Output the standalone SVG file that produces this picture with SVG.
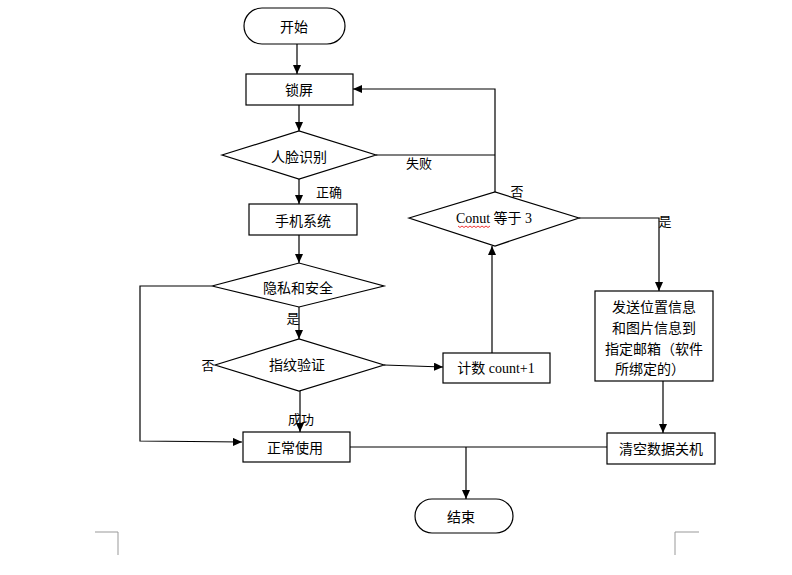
<svg xmlns="http://www.w3.org/2000/svg" width="792" height="575" viewBox="0 0 792 575">
<style>
.box{fill:#fff;stroke:#000;stroke-width:1.2}
.t{font-family:"Noto Sans CJK SC","Liberation Sans",sans-serif;font-size:14px;fill:#000;text-anchor:middle;dominant-baseline:central}
.s{font-family:"Liberation Serif","Noto Sans CJK SC",serif;font-size:14px;fill:#000;text-anchor:middle;dominant-baseline:central}
.l{font-family:"Noto Sans CJK SC","Liberation Sans",sans-serif;font-size:13px;fill:#000;text-anchor:middle;dominant-baseline:central}
.c{fill:none;stroke:#000;stroke-width:1.2}
.mark{fill:none;stroke:#999;stroke-width:1}
</style>
<defs>
<marker id="ah" markerUnits="userSpaceOnUse" markerWidth="9" markerHeight="8" refX="9" refY="4" orient="auto">
<path d="M0,0 L9,4 L0,8 z" fill="#000"/>
</marker>
</defs>
<rect width="792" height="575" fill="#fff"/>
<g id="connectors">
<path class="c" d="M297,44 V74" marker-end="url(#ah)"/>
<path class="c" d="M299,105 V131" marker-end="url(#ah)"/>
<path class="c" d="M376,155 H495"/>
<path class="c" d="M495,192 V89 H353" marker-end="url(#ah)"/>
<path class="c" d="M299,179 V204" marker-end="url(#ah)"/>
<path class="c" d="M299,235 V263" marker-end="url(#ah)"/>
<path class="c" d="M212,286 H140 V441 L242,442" marker-end="url(#ah)"/>
<path class="c" d="M299,307 V339" marker-end="url(#ah)"/>
<path class="c" d="M300,391 V432" marker-end="url(#ah)"/>
<path class="c" d="M384,365 L443,367" marker-end="url(#ah)"/>
<path class="c" d="M492,353 V246" marker-end="url(#ah)"/>
<path class="c" d="M579,218 H659 V291" marker-end="url(#ah)"/>
<path class="c" d="M663,381 V433" marker-end="url(#ah)"/>
<path class="c" d="M350,447 H607"/>
<path class="c" d="M466,447 V499" marker-end="url(#ah)"/>
<text class="l" x="419" y="162">失败</text>
<text class="l" x="329" y="191">正确</text>
<text class="l" x="293" y="317" font-size="11">是</text>
<text class="l" x="208" y="364" font-size="11">否</text>
<text class="l" x="301" y="418" font-size="11">成功</text>
<text class="l" x="517" y="190">否</text>
<text class="l" x="665" y="220">是</text>
</g>
<g id="start">
<rect class="box" x="244" y="8" width="101" height="36" rx="18"/>
<text class="t" x="294" y="26">开始</text>
</g>
<g id="lock">
<rect class="box" x="246" y="74" width="107" height="31"/>
<text class="t" x="299" y="89">锁屏</text>
</g>
<g id="face">
<polygon class="box" points="222,155 299,131 376,155 299,179"/>
<text class="t" x="299" y="156">人脸识别</text>
</g>
<g id="system">
<rect class="box" x="249" y="204" width="108" height="31"/>
<text class="t" x="303" y="220">手机系统</text>
</g>
<g id="privacy">
<polygon class="box" points="212,286 299,263 384,286 299,307"/>
<text class="t" x="298" y="287">隐私和安全</text>
</g>
<g id="finger">
<polygon class="box" points="215,365 299,339 384,365 299,391"/>
<text class="t" x="297" y="364">指纹验证</text>
</g>
<g id="count">
<rect class="box" x="443" y="353" width="107" height="30"/>
<text class="s" x="496" y="368">计数 count+1</text>
</g>
<g id="conut">
<polygon class="box" points="409,218 495,192 579,218 495,246"/>
<text class="s" x="494" y="218">Conut 等于 3</text>
<path d="M458,226 l2,1.5 l2,-1.5 l2,1.5 l2,-1.5 l2,1.5 l2,-1.5 l2,1.5 l2,-1.5 l2,1.5 l2,-1.5 l2,1.5 l2,-1.5 l2,1.5 l2,-1.5 l2,1.5 l2,-1.5" fill="none" stroke="#e00" stroke-width="0.8"/>
</g>
<g id="send">
<rect class="box" x="595" y="291" width="118" height="90"/>
<text class="t" x="654" y="306">发送位置信息</text>
<text class="t" x="654" y="327">和图片信息到</text>
<text class="t" x="654" y="348">指定邮箱（软件</text>
<text class="t" x="650" y="368">所绑定的）</text>
</g>
<g id="normal">
<rect class="box" x="243" y="432" width="107" height="30"/>
<text class="t" x="295" y="447">正常使用</text>
</g>
<g id="wipe">
<rect class="box" x="607" y="433" width="108" height="31"/>
<text class="t" x="661" y="448">清空数据关机</text>
</g>
<g id="end">
<rect class="box" x="415" y="499" width="98" height="34" rx="17"/>
<text class="t" x="461" y="516">结束</text>
</g>
<path class="mark" d="M95,532 H118 V555"/>
<path class="mark" d="M699,532 H675 V555"/>
</svg>
